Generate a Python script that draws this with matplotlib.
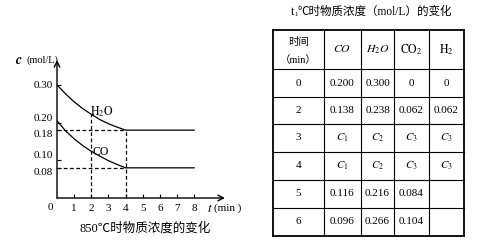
import numpy as np
import matplotlib
matplotlib.use("Agg")
import matplotlib.pyplot as plt

plt.rcParams['font.family'] = ['Liberation Serif', 'Noto Sans CJK SC', 'DejaVu Sans']
plt.rcParams['mathtext.fontset'] = 'stix'

# curve data (850 C)
t_curve = [0, 0.5, 1, 1.5, 2, 2.5, 3, 3.5, 4, 8]
h2o = [0.30, 0.276, 0.255, 0.237, 0.222, 0.208, 0.197, 0.188, 0.18, 0.18]
co = [0.205, 0.178, 0.157, 0.139, 0.124, 0.111, 0.099, 0.089, 0.08, 0.08]
x_ticks = [1, 2, 3, 4, 5, 6, 7, 8]
y_ticks = [0.30, 0.20, 0.18, 0.10, 0.08]
y_labels = ['0.30', '0.20', '0.18', '0.10', '0.08']

# table data (t1 C)
col_heads = ['$CO$', '$H_2O$', r'$\mathrm{CO_2}$', r'$\mathrm{H_2}$']
times = ['0', '2', '3', '4', '5', '6']
co_vals = ['0.200', '0.138', '$C_1$', '$C_1$', '0.116', '0.096']
h2o_vals = ['0.300', '0.238', '$C_2$', '$C_2$', '0.216', '0.266']
co2_vals = ['0', '0.062', '$C_3$', '$C_3$', '0.084', '0.104']
h2_vals = ['0', '0.062', '$C_3$', '$C_3$', '', '']

fig = plt.figure(figsize=(4.8, 2.4), dpi=100)

# ---- left chart ----
ax = fig.add_axes([57 / 480, 42 / 240, 168 / 480, 138 / 240])
ax.set_xlim(0, 9.8)
ax.set_ylim(0, 0.366)
for s in ax.spines.values():
    s.set_visible(False)
ax.plot(t_curve, h2o, color='black', lw=0.9)
ax.plot(t_curve, co, color='black', lw=0.9)

dash = dict(color='black', lw=0.9, ls=(0, (3, 2)))
ax.plot([0, 4], [h2o[8], h2o[8]], **dash)
ax.plot([0, 4], [co[8], co[8]], **dash)
ax.plot([2, 2], [0, h2o[4]], **dash)
ax.plot([4, 4], [0, h2o[8]], **dash)

# axes with arrows
ax.annotate('', xy=(9.8, 0), xytext=(0, 0),
            arrowprops=dict(arrowstyle='->', lw=1.0, color='black', shrinkA=0, shrinkB=0),
            annotation_clip=False)
ax.annotate('', xy=(0, 0.366), xytext=(0, 0),
            arrowprops=dict(arrowstyle='->', lw=1.0, color='black', shrinkA=0, shrinkB=0),
            annotation_clip=False)

ax.set_xticks(x_ticks)
ax.set_xticklabels([str(v) for v in x_ticks])
ax.set_yticks(y_ticks)
ax.set_yticklabels(y_labels)
ax.tick_params(axis='x', direction='in', length=3, width=0.8, labelsize=8, pad=4)
ax.tick_params(axis='y', direction='in', length=3, width=0.8, labelsize=8, pad=3)
for lab in ax.get_yticklabels():
    if lab.get_text() in ('0.20', '0.10'):
        lab.set_va('bottom')
    elif lab.get_text() in ('0.18', '0.08'):
        lab.set_va('top')

ax.text(-0.25, -0.012, '0', ha='right', va='top', fontsize=8)
ax.text(2.6, 0.23, r'$\mathrm{H_2O}$', ha='center', va='center', fontsize=8.5)
ax.text(2.55, 0.122, 'CO', ha='center', va='center', fontsize=8.5)
ax.text(8.75, -0.012, '$t$', ha='left', va='top', fontsize=9.5, fontweight='bold')
ax.text(9.15, -0.014, '(min )', ha='left', va='top', fontsize=8)
ax.text(-2.45, 0.366, r'$\boldsymbol{c}$', ha='left', va='center', fontsize=10)
ax.text(-1.8, 0.366, '(mol/L)', ha='left', va='center', fontsize=7.5)

fig.text(145 / 480, 1 - 228 / 240, '850℃时物质浓度的变化', ha='center', va='center', fontsize=9)

# ---- right table ----
tab = fig.add_axes([0, 0, 1, 1])
tab.set_xlim(0, 480)
tab.set_ylim(240, 0)
tab.axis('off')

xs = [273, 324, 361, 394, 429, 464]
ys = [30, 69, 97, 124, 152, 180, 208, 236]
for i, x in enumerate(xs):
    lw = 1.3 if i in (0, len(xs) - 1) else 0.8
    tab.plot([x, x], [ys[0], ys[-1]], color='black', lw=lw)
for j, y in enumerate(ys):
    lw = 1.3 if j in (0, len(ys) - 1) else 0.8
    tab.plot([xs[0], xs[-1]], [y, y], color='black', lw=lw)

cx = [(xs[k] + xs[k + 1]) / 2 for k in range(len(xs) - 1)]
cy = [(ys[k] + ys[k + 1]) / 2 for k in range(len(ys) - 1)]

tab.text(cx[0], 42, '时间', ha='center', va='center', fontsize=7.5)
tab.text(cx[0], 60, '（min）', ha='center', va='center', fontsize=7.5)
for k, h in enumerate(col_heads):
    tab.text(cx[k + 1], cy[0], h, ha='center', va='center', fontsize=8.5)

columns = [times, co_vals, h2o_vals, co2_vals, h2_vals]
for c, col in enumerate(columns):
    for r, v in enumerate(col):
        if v:
            tab.text(cx[c], cy[r + 1], v, ha='center', va='center', fontsize=8)

tab.text(291, 12, 't', ha='left', va='center', fontsize=8.5)
tab.text(294.5, 15, '1', ha='left', va='center', fontsize=5)
tab.text(298, 12, '℃时物质浓度（mol/L）的变化', ha='left', va='center', fontsize=8.3)

fig.savefig('out.png', dpi=100)
